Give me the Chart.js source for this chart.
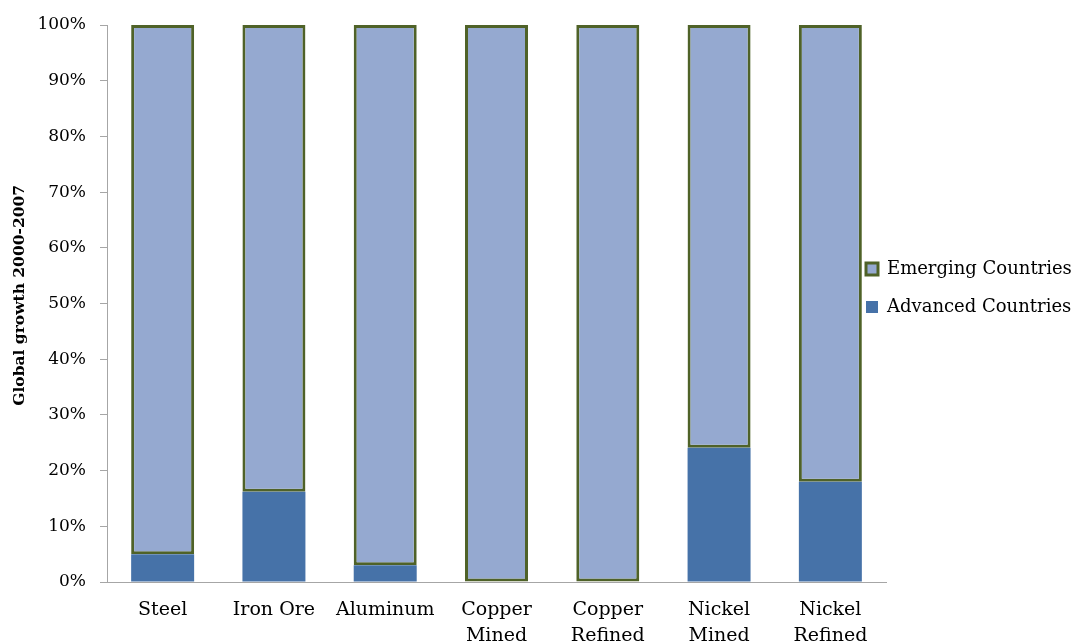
<!DOCTYPE html>
<html>
<head>
<meta charset="utf-8">
<script src="https://cdn.jsdelivr.net/npm/chart.js@4/dist/chart.umd.min.js"></script>
<style>
html,body{margin:0;padding:0;background:#fff;}
#wrap{width:1077px;height:644px;position:relative;}
</style>
</head>
<body>
<div id="wrap"><canvas id="c" width="1077" height="644"></canvas></div>
<script>
const categories = [["Steel"], ["Iron Ore"], ["Aluminum"], ["Copper", "Mined"], ["Copper", "Refined"], ["Nickel", "Mined"], ["Nickel", "Refined"]];
const advanced = [5, 16.2, 3, 0, 0, 24.1, 18];
const emerging = [95, 83.8, 97, 100, 100, 75.9, 82];
const yTicks = [0, 10, 20, 30, 40, 50, 60, 70, 80, 90, 100];

const FONT = "'DejaVu Serif', 'Liberation Serif', serif";

const legendPlace = {
  id: 'legendPlace',
  afterLayout(chart) {
    const l = chart.legend;
    if (!l) return;
    const pad = l.options.labels.padding;
    const w = l.width, h = l.height;
    l.left = 866 - pad; l.right = l.left + w;
    l.top = 240; l.bottom = l.top + h;
  }
};

new Chart(document.getElementById('c'), {
  type: 'bar',
  data: {
    labels: categories,
    datasets: [
      {
        label: 'Advanced Countries',
        data: advanced,
        backgroundColor: '#4672A8',
        borderWidth: 0
      },
      {
        label: 'Emerging Countries',
        data: emerging,
        backgroundColor: '#95A9D0',
        borderColor: '#4F6228',
        borderWidth: 3,
        borderSkipped: false
      }
    ]
  },
  plugins: [legendPlace],
  options: {
    responsive: false,
    animation: false,
    devicePixelRatio: 1,
    layout: { padding: { top: 25, right: 191, left: 0, bottom: 0 } },
    datasets: { bar: { categoryPercentage: 1, barPercentage: 0.566 } },
    plugins: {
      tooltip: { enabled: false },
      legend: {
        position: 'chartArea',
        align: 'start',
        reverse: true,
        labels: {
          boxWidth: 12,
          boxHeight: 12,
          padding: 20,
          color: '#000',
          font: { family: FONT, size: 18 }
        }
      }
    },
    scales: {
      x: {
        stacked: true,
        grid: { display: false, drawTicks: false },
        border: { display: true, color: '#A6A6A6', width: 1 },
        ticks: {
          color: '#000',
          font: { family: FONT, size: 19, lineHeight: 1.37 },
          padding: 15,
          maxRotation: 0,
          autoSkip: false
        },
        afterFit: function(s) { s.height = 62; }
      },
      y: {
        stacked: true,
        min: 0,
        max: 100,
        afterBuildTicks: function(s) { s.ticks = yTicks.map(v => ({ value: v })); },
        grid: { drawOnChartArea: false, drawTicks: true, tickLength: 7, color: '#A6A6A6' },
        border: { display: true, color: '#A6A6A6', width: 1 },
        ticks: {
          color: '#000',
          font: { family: FONT, size: 17 },
          padding: 14,
          callback: v => v + '%'
        },
        title: {
          display: true,
          text: '   Global growth 2000-2007',
          color: '#000',
          font: { family: FONT, size: 15.5, weight: 'bold' },
          padding: { top: 11, bottom: 0 }
        },
        afterFit: function(s) { s.width = 107; }
      }
    }
  }
});
</script>
</body>
</html>
